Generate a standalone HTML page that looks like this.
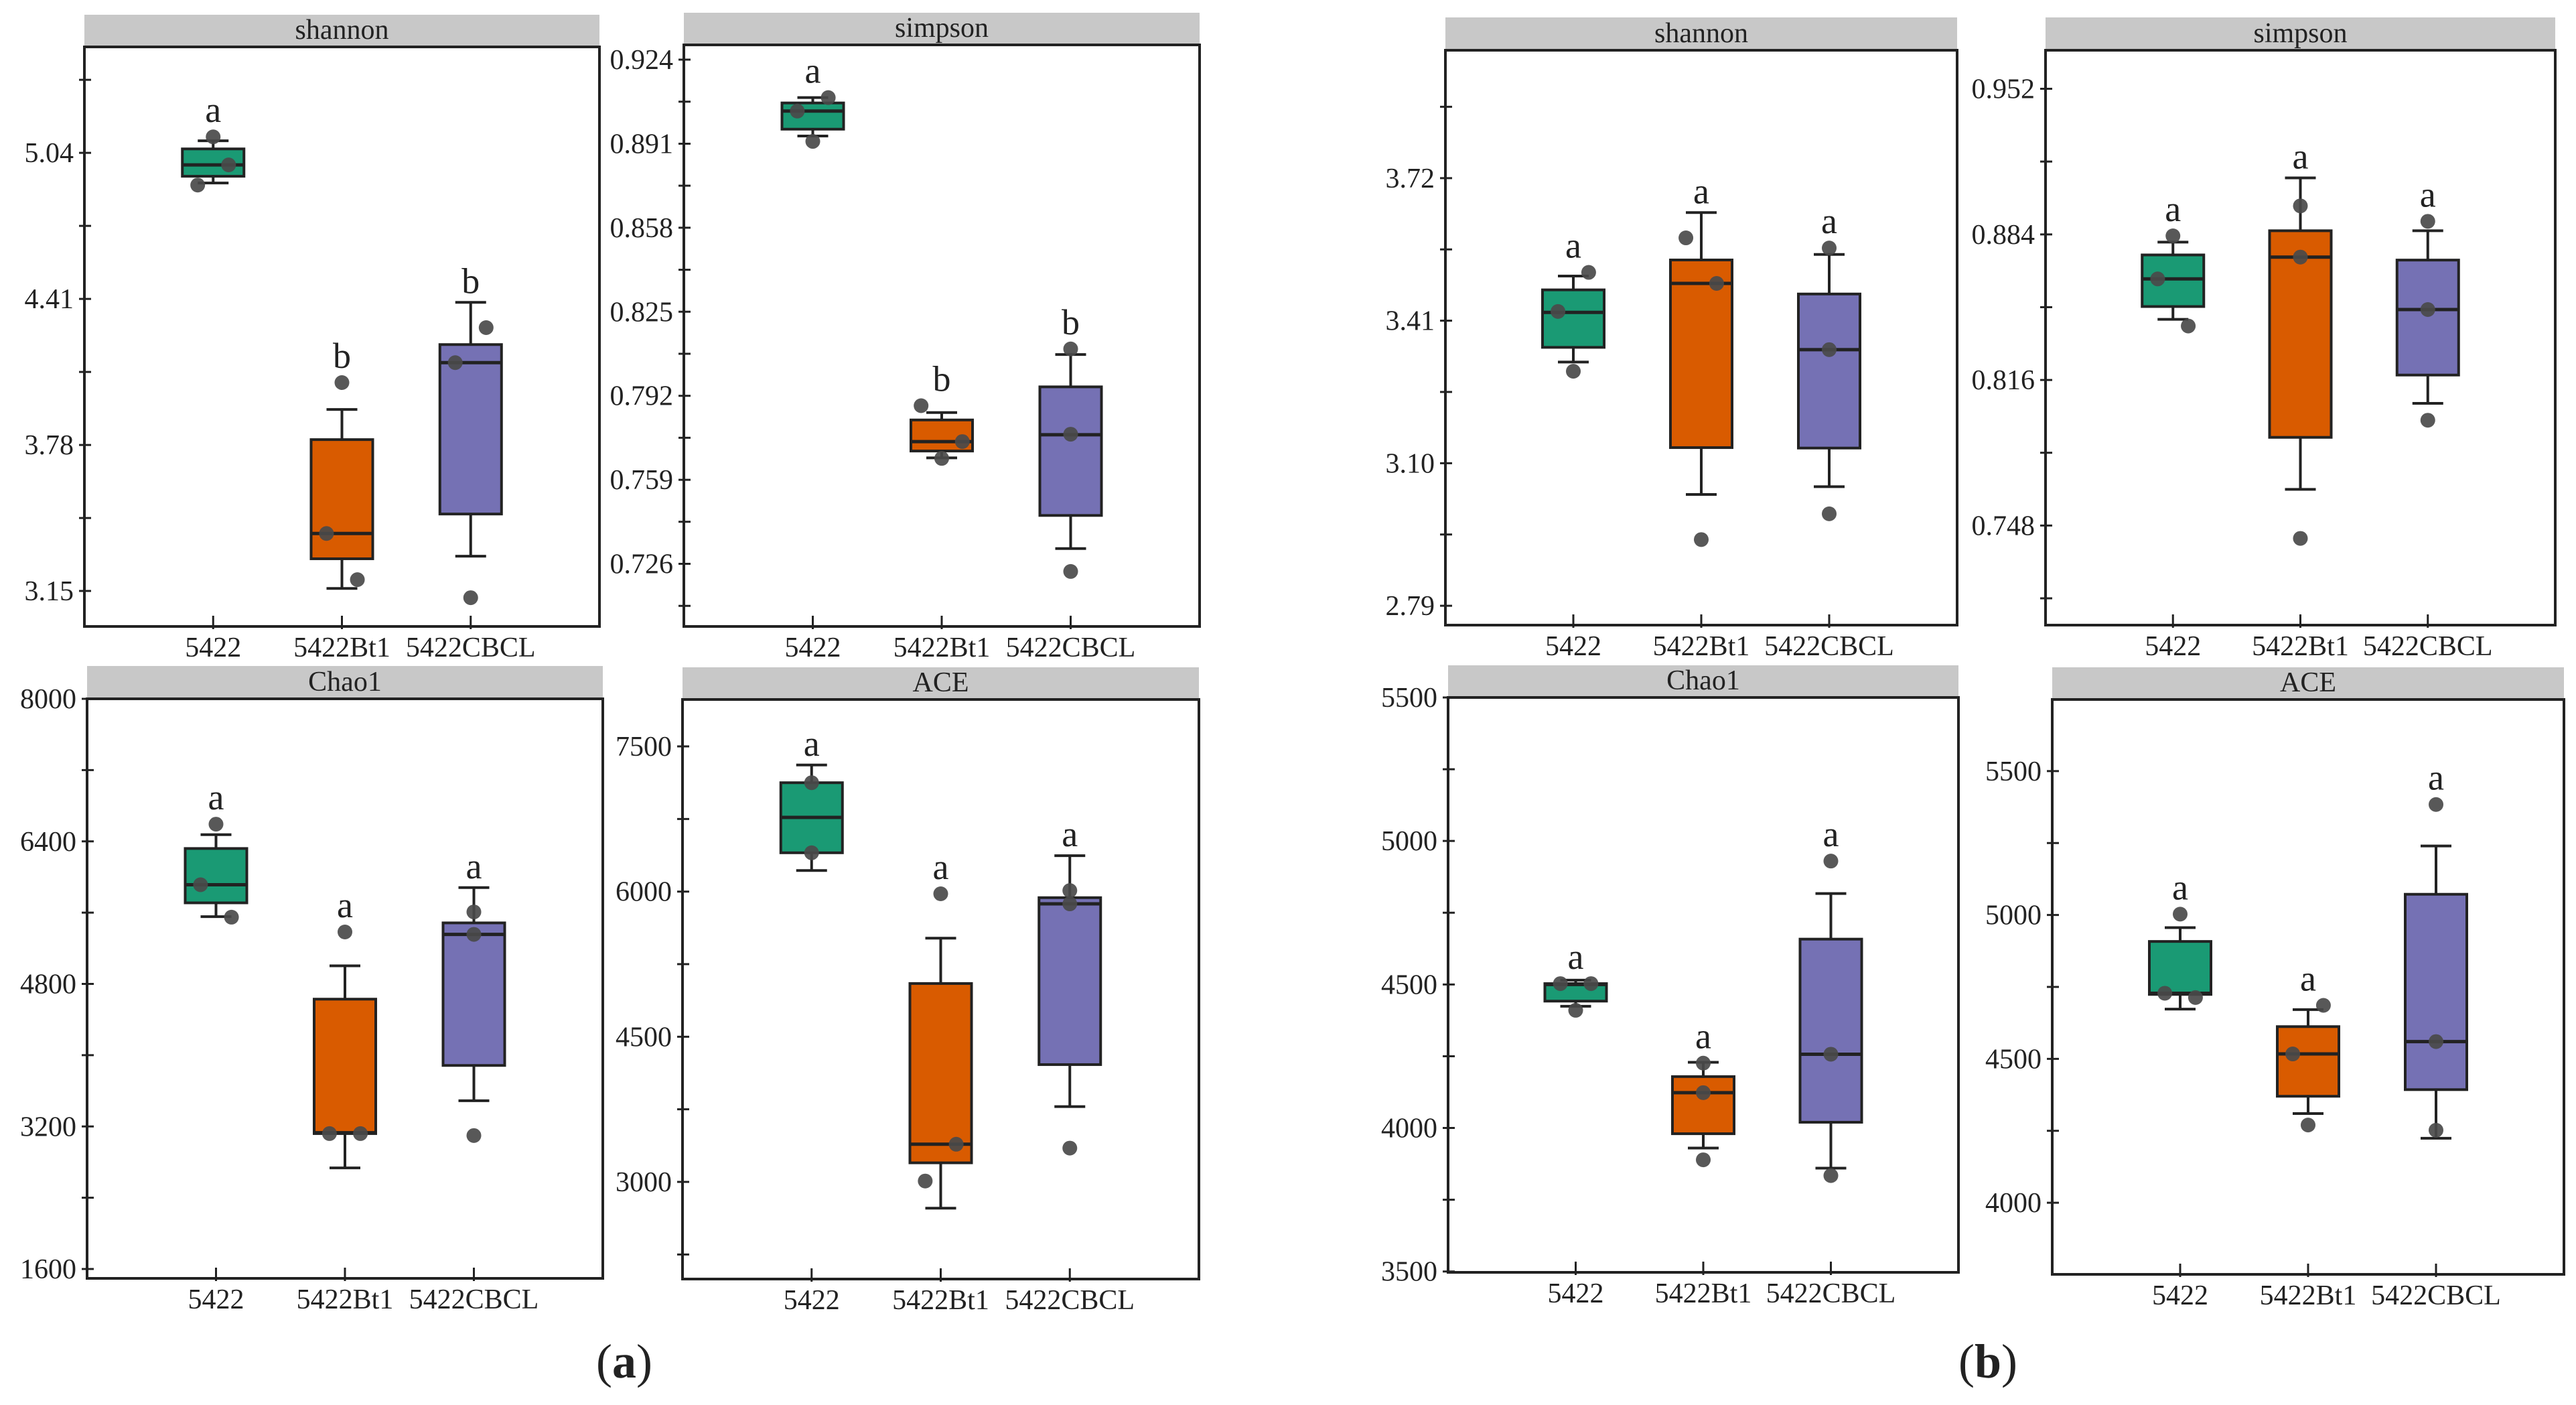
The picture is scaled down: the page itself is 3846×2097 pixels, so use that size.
<!DOCTYPE html>
<html><head><meta charset="utf-8">
<style>
html,body{margin:0;padding:0;background:#fff;}
svg{display:block;}
svg text{font-family:"Liberation Serif","Times New Roman",serif !important;fill:#222;}
</style></head>
<body>
<svg id="fig" width="3846" height="2097" viewBox="0 0 3846 2097" xmlns="http://www.w3.org/2000/svg" font-family="Liberation Serif, serif">
<rect width="3846" height="2097" fill="#fff"/>
<text x="932" y="2056" font-size="72" text-anchor="middle" font-family="Liberation Serif, serif">(<tspan font-weight="bold">a</tspan>)</text>
<text x="2968" y="2056" font-size="72" text-anchor="middle" font-family="Liberation Serif, serif">(<tspan font-weight="bold">b</tspan>)</text>
</svg>
<script>
const categories = ["5422","5422Bt1","5422CBCL"];
const colors = ["#1a9a74","#d95b00","#7571b4"];

// ---- shannon (a)
const shA_q3 = [5.057,3.803,4.213];
const shA_med = [4.988,3.398,4.135];
const shA_q1 = [4.939,3.289,3.482];
const shA_hi = [5.092,3.933,4.395];
const shA_lo = [4.91,3.161,3.30];
const shA_pts = [[5.109,4.988,4.901],[4.049,3.398,3.199],[4.286,4.135,3.121]];
const shA_ticks = ["3.15","3.78","4.41","5.04"];
const shA_letters = ["a","b","b"];
// ---- simpson (a)
const siA_q3 = [0.907,0.7825,0.7955];
const siA_med = [0.9038,0.774,0.7767];
const siA_q1 = [0.8967,0.7703,0.745];
const siA_hi = [0.9091,0.7854,0.8082];
const siA_lo = [0.894,0.7676,0.732];
const siA_pts = [[0.9038,0.9091,0.8919],[0.7881,0.774,0.7674],[0.8104,0.7769,0.723]];
const siA_ticks = ["0.726","0.759","0.792","0.825","0.858","0.891","0.924"];
const siA_letters = ["a","b","b"];
// ---- Chao1 (a)
const chA_q3 = [6320,4629,5485];
const chA_med = [5913,3130,5356];
const chA_q1 = [5710,3120,3885];
const chA_hi = [6475,5003,5881];
const chA_lo = [5555,2735,3489];
const chA_pts = [[6593,5913,5549],[5383,3120,3120],[5608,5356,3098]];
const chA_ticks = ["1600","3200","4800","6400","8000"];
const chA_letters = ["a","a","a"];
// ---- ACE (a)
const acA_q3 = [7125,5050,5937];
const acA_med = [6766,3389,5873];
const acA_q1 = [6401,3197,4212];
const acA_hi = [7308,5518,6371];
const acA_lo = [6218,2728,3778];
const acA_pts = [[7125,6401],[5977,3389,3009],[6011,5873,3349]];
const acA_ticks = ["3000","4500","6000","7500"];
const acA_letters = ["a","a","a"];
// ---- shannon (b)
const shB_q3 = [3.477,3.542,3.468];
const shB_med = [3.428,3.491,3.347];
const shB_q1 = [3.352,3.134,3.133];
const shB_hi = [3.507,3.645,3.554];
const shB_lo = [3.32,3.032,3.049];
const shB_pts = [[3.515,3.43,3.30],[3.59,3.491,2.934],[3.568,3.347,2.99]];
const shB_ticks = ["2.79","3.10","3.41","3.72"];
const shB_letters = ["a","a","a"];
// ---- simpson (b)
const siB_q3 = [0.8744,0.8857,0.872];
const siB_med = [0.8632,0.8734,0.8489];
const siB_q1 = [0.8503,0.7892,0.8183];
const siB_hi = [0.8804,0.9104,0.8857];
const siB_lo = [0.8443,0.7649,0.8051];
const siB_pts = [[0.8833,0.8632,0.8412],[0.8973,0.8734,0.742],[0.8901,0.8489,0.7972]];
const siB_ticks = ["0.748","0.816","0.884","0.952"];
const siB_letters = ["a","a","a"];
// ---- Chao1 (b)
const chB_q3 = [4503,4179,4658];
const chB_med = [4500,4123,4257];
const chB_q1 = [4442,3980,4020];
const chB_hi = [4515,4229,4817];
const chB_lo = [4424,3930,3860];
const chB_pts = [[4503,4503,4410],[4226,4123,3889],[4930,4257,3834]];
const chB_ticks = ["3500","4000","4500","5000","5500"];
const chB_letters = ["a","a","a"];
// ---- ACE (b)
const acB_q3 = [4908,4612,5072];
const acB_med = [4728,4517,4560];
const acB_q1 = [4724,4370,4393];
const acB_hi = [4956,4671,5240];
const acB_lo = [4673,4310,4224];
const acB_pts = [[5003,4728,4713],[4686,4517,4270],[5384,4560,4252]];
const acB_ticks = ["4000","4500","5000","5500"];
const acB_letters = ["a","a","a"];

// layout (not data)
const panels = [
 {id:"shannon-a",title:"shannon",x0:126,x1:895,hy:22,y0:70,y1:935,dom:[2.997,5.497],q3:shA_q3,med:shA_med,q1:shA_q1,hi:shA_hi,lo:shA_lo,pts:shA_pts,ticks:shA_ticks,letters:shA_letters,jit:[[0,0.03,-0.03],[0,-0.03,0.03],[0.03,-0.03,0]]},
 {id:"simpson-a",title:"simpson",x0:1021,x1:1791,hy:19,y0:67,y1:935,dom:[0.7014,0.9298],q3:siA_q3,med:siA_med,q1:siA_q1,hi:siA_hi,lo:siA_lo,pts:siA_pts,ticks:siA_ticks,letters:siA_letters,jit:[[-0.03,0.03,0],[-0.04,0.04,0],[0,0,0]]},
 {id:"chao1-a",title:"Chao1",x0:130,x1:900,hy:994,y0:1043,y1:1908,dom:[1495,8000],q3:chA_q3,med:chA_med,q1:chA_q1,hi:chA_hi,lo:chA_lo,pts:chA_pts,ticks:chA_ticks,letters:chA_letters,jit:[[0,-0.03,0.03],[0,-0.03,0.03],[0,0,0]]},
 {id:"ace-a",title:"ACE",x0:1019,x1:1790,hy:996,y0:1044,y1:1909,dom:[1996,7985],q3:acA_q3,med:acA_med,q1:acA_q1,hi:acA_hi,lo:acA_lo,pts:acA_pts,ticks:acA_ticks,letters:acA_letters,jit:[[0,0],[0,0.03,-0.03],[0,0,0]]},
 {id:"shannon-b",title:"shannon",x0:2158,x1:2922,hy:26,y0:75,y1:933,dom:[2.748,3.998],q3:shB_q3,med:shB_med,q1:shB_q1,hi:shB_hi,lo:shB_lo,pts:shB_pts,ticks:shB_ticks,letters:shB_letters,jit:[[0.03,-0.03,0],[-0.03,0.03,0],[0,0,0]]},
 {id:"simpson-b",title:"simpson",x0:3054,x1:3815,hy:26,y0:75,y1:933,dom:[0.7015,0.970],q3:siB_q3,med:siB_med,q1:siB_q1,hi:siB_hi,lo:siB_lo,pts:siB_pts,ticks:siB_ticks,letters:siB_letters,jit:[[0,-0.03,0.03],[0,0,0],[0,0,0]]},
 {id:"chao1-b",title:"Chao1",x0:2162,x1:2924,hy:993,y0:1041,y1:1899,dom:[3497,5500],q3:chB_q3,med:chB_med,q1:chB_q1,hi:chB_hi,lo:chB_lo,pts:chB_pts,ticks:chB_ticks,letters:chB_letters,jit:[[-0.03,0.03,0],[0,0,0],[0,0,0]]},
 {id:"ace-b",title:"ACE",x0:3064,x1:3828,hy:996,y0:1044,y1:1902,dom:[3751,5749],q3:acB_q3,med:acB_med,q1:acB_q1,hi:acB_hi,lo:acB_lo,pts:acB_pts,ticks:acB_ticks,letters:acB_letters,jit:[[0,-0.03,0.03],[0.03,-0.03,0],[0,0,0]]}
];

const NS="http://www.w3.org/2000/svg";
const svg=document.getElementById("fig");
const FONT="Liberation Serif, serif";
function mk(tag,attrs,parent){const e=document.createElementNS(NS,tag);for(const k in attrs)e.setAttribute(k,attrs[k]);if(tag==="text")e.setAttribute("font-family",FONT);(parent||svg).appendChild(e);return e;}

panels.forEach(p=>{
  const g=mk("g",{});
  
  
  const w=p.x1-p.x0;
  const y=v=>p.y1-(v-p.dom[0])/(p.dom[1]-p.dom[0])*(p.y1-p.y0);
  const xc=i=>p.x0+w*(0.25+0.25*i);
  const hdr=mk("rect",{x:p.x0,y:p.hy,width:w,height:p.y0-p.hy,fill:"#c8c8c8"},g);
  
  
  const ht=mk("text",{x:p.x0+w/2,y:p.y0-12,"font-size":42,"text-anchor":"middle"},g);
  ht.textContent=p.title;
  
  
  const tv=p.ticks.map(Number);
  const step=tv[1]-tv[0];
  for(let v=tv[0]-step*4;v<=p.dom[1]+1e-9;v+=step/2){
    if(v<p.dom[0]-1e-9)continue;
    const yy=y(v);
    mk("line",{x1:p.x0-8,x2:p.x0+10,y1:yy,y2:yy,stroke:"#222","stroke-width":3},g);
  }
  p.ticks.forEach((t,i)=>{
    const lab=mk("text",{x:p.x0-16,y:y(tv[i])+14,"font-size":42,"text-anchor":"end"},g);
    lab.textContent=t;
    
    
  });
  categories.forEach((c,i)=>{
    const x=xc(i);
    mk("line",{x1:x,x2:x,y1:p.y1-16,y2:p.y1+4,stroke:"#222","stroke-width":3},g);
    const lab=mk("text",{x:x,y:p.y1+45,"font-size":42,"text-anchor":"middle"},g);
    lab.textContent=c;
    
    
    const cap=23, bw=46;
    mk("line",{x1:x,x2:x,y1:y(p.hi[i]),y2:y(p.q3[i]),stroke:"#222","stroke-width":4},g);
    mk("line",{x1:x,x2:x,y1:y(p.q1[i]),y2:y(p.lo[i]),stroke:"#222","stroke-width":4},g);
    mk("line",{x1:x-cap,x2:x+cap,y1:y(p.hi[i]),y2:y(p.hi[i]),stroke:"#222","stroke-width":4},g);
    mk("line",{x1:x-cap,x2:x+cap,y1:y(p.lo[i]),y2:y(p.lo[i]),stroke:"#222","stroke-width":4},g);
    const box=mk("rect",{x:x-bw,y:y(p.q3[i]),width:bw*2,height:Math.max(1,y(p.q1[i])-y(p.q3[i])),fill:colors[i],stroke:"#222","stroke-width":4},g);
    
    
    mk("line",{x1:x-bw,x2:x+bw,y1:y(p.med[i]),y2:y(p.med[i]),stroke:"#222","stroke-width":5},g);
    let top=y(p.hi[i]);
    p.pts[i].forEach((v,j)=>{
      const pt=mk("circle",{cx:x+w*(p.jit[i][j]||0),cy:y(v),r:11,fill:"#4a4a4a","fill-opacity":0.92},g);
      
      
      top=Math.min(top,y(v)-8);
    });
    const lt=mk("text",{x:x,y:top-14,"font-size":54,"text-anchor":"middle"},g);
    lt.textContent=p.letters[i];
    
    
  });
  const fr=mk("rect",{x:p.x0,y:p.y0,width:w,height:p.y1-p.y0,fill:"none",stroke:"#222","stroke-width":4},g);
  
  
});
</script>
</body></html>
